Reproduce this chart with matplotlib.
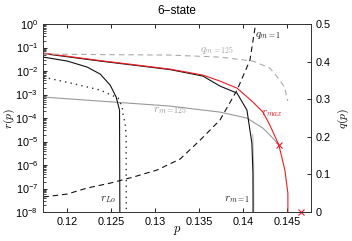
import numpy as np
import matplotlib
matplotlib.use('Agg')
import matplotlib.pyplot as plt
from matplotlib.ticker import LogLocator, NullFormatter

plt.rcParams['font.family'] = 'Liberation Sans'
plt.rcParams['mathtext.fontset'] = 'cm'
plt.rcParams['font.size'] = 8

# r curves (left, log axis)
p_rmax = [0.11734, 0.12379, 0.13171, 0.13544, 0.13737, 0.13929, 0.14110, 0.14223, 0.14302, 0.14404, 0.14472, 0.14506, 0.14508]
r_rmax = [0.0583, 0.0280, 0.01216, 0.00676, 0.00375, 0.00189, 4.80e-4, 1.80e-4, 5.04e-5, 7.1e-6, 6.1e-7, 6.4e-8, 1e-12]

p_rlo = [0.11734, 0.12006, 0.12232, 0.12379, 0.12492, 0.12560, 0.12598, 0.12605]
r_rlo = [0.0394, 0.0267, 0.0148, 0.00745, 0.00254, 7.83e-4, 2.19e-4, 1e-12]

p_dot = [0.11734, 0.12096, 0.12379, 0.12583, 0.12628, 0.12639, 0.12662, 0.12673, 0.12677]
r_dot = [5.56e-3, 2.80e-3, 1.55e-3, 7.10e-4, 2.94e-4, 1.34e-4, 6.1e-5, 1.55e-5, 1e-12]

p_rm1 = [0.11734, 0.12379, 0.13171, 0.13544, 0.13737, 0.13929, 0.14042, 0.14098, 0.14110, 0.14115]
r_rm1 = [0.0556, 0.0267, 0.01159, 0.00612, 0.0023, 0.00116, 2.19e-4, 8.6e-6, 4.6e-7, 1e-12]

p_rm125 = [0.11734, 0.12379, 0.13171, 0.13544, 0.13737, 0.14042, 0.14223, 0.14325, 0.14404]
r_rm125 = [7.83e-4, 5.28e-4, 3.24e-4, 2.19e-4, 1.80e-4, 1.0e-4, 3.75e-5, 1.55e-5, 7.1e-6]

p_grey = [0.14108, 0.14118, 0.14122]
r_grey = [2e-5, 1e-6, 1e-12]

# q curves (right, linear axis)
p_qm1 = [0.11734, 0.12006, 0.12232, 0.12492, 0.12752, 0.13024, 0.13284, 0.13510, 0.13737, 0.13929, 0.14076, 0.14140, 0.14150]
q_qm1 = [0.040, 0.048, 0.064, 0.077, 0.093, 0.112, 0.141, 0.191, 0.245, 0.324, 0.404, 0.500, 0.52]

p_qm125 = [0.11734, 0.12379, 0.13171, 0.13737, 0.14110, 0.14302, 0.14415, 0.14472, 0.14494, 0.14506]
q_qm125 = [0.4202, 0.4189, 0.4176, 0.4122, 0.4016, 0.383, 0.351, 0.330, 0.303, 0.2957]

p_cross = [0.14404, 0.1466]
q_cross = [0.178, 0.0]

xticks = [0.12, 0.125, 0.13, 0.135, 0.14, 0.145]
xticklabels = ['0.12', '0.125', '0.13', '0.135', '0.14', '0.145']
qticks = [0, 0.1, 0.2, 0.3, 0.4, 0.5]

fig = plt.figure(figsize=(3.52, 2.41), dpi=100)
ax = fig.add_axes([0.122, 0.120, 0.762, 0.780])
ax2 = ax.twinx()

lw = 0.8
ax.semilogy(p_rm125, r_rm125, color='#999999', lw=lw)
ax.semilogy(p_grey, r_grey, color='#bbbbbb', lw=lw)
ax.semilogy(p_dot, r_dot, color='#333333', lw=1.0, ls=(0, (1, 3)))
ax.semilogy(p_rlo, r_rlo, color='#111111', lw=lw)
ax.semilogy(p_rm1, r_rm1, color='#111111', lw=lw)
ax.semilogy(p_rmax, r_rmax, color='#ee1c25', lw=lw)

ax2.plot(p_qm125, q_qm125, color='#aaaaaa', lw=lw, dashes=(5, 3.5))
ax2.plot(p_qm1, q_qm1, color='#111111', lw=lw, dashes=(5, 3.5))
ax2.plot(p_cross, q_cross, 'x', color='#ee1c25', ms=4, mew=0.8, clip_on=False)

ax.set_xlim(0.1173, 0.1477)
ax.set_ylim(1e-8, 1)
ax2.set_ylim(0, 0.5)

ax.set_xticks(xticks)
ax.set_xticklabels(xticklabels)
ax.yaxis.set_major_locator(LogLocator(base=10, numticks=20))
ax.yaxis.set_minor_locator(LogLocator(base=10, subs=np.arange(2, 10), numticks=20))
ax.yaxis.set_minor_formatter(NullFormatter())
ax2.set_yticks(qticks)
ax2.set_yticklabels(['0', '0.1', '0.2', '0.3', '0.4', '0.5'])

ax.tick_params(which='major', direction='in', length=3, width=0.6, top=True, labelsize=7.8)
ax.tick_params(which='minor', direction='in', length=1.8, width=0.5)
ax2.tick_params(direction='in', length=3, width=0.6, labelsize=7.8)
for a in (ax, ax2):
    for s in a.spines.values():
        s.set_color('#333333')
        s.set_linewidth(0.6)

ax.set_xlabel(r'$p$', fontsize=9)
ax.xaxis.set_label_coords(0.5, -0.065)
ax.set_ylabel(r'$r(p)$', fontsize=8.5)
ax.yaxis.set_label_coords(-0.098, 0.5)
ax2.set_ylabel(r'$q(p)$', fontsize=8.5, labelpad=3)
ax.set_title('6\u2212state', fontsize=8.5, pad=7)

ax2.text(0.1247, 0.032, r'$r_{Lo}$', fontsize=8, color='#222222', ha='center', va='center')
ax2.text(0.13929, 0.032, r'$r_{m=1}$', fontsize=8, color='#222222', ha='center', va='center')
ax2.text(0.14325, 0.263, r'$r_{max}$', fontsize=8, color='#ee1c25', ha='center', va='center')
ax2.text(0.13171, 0.269, r'$r_{m=125}$', fontsize=8, color='#999999', ha='center', va='center')
ax2.text(0.13702, 0.431, r'$q_{m=125}$', fontsize=8, color='#aaaaaa', ha='center', va='center')
ax2.text(0.14279, 0.471, r'$q_{m=1}$', fontsize=8, color='#222222', ha='center', va='center')

fig.savefig('out.png', dpi=100)
